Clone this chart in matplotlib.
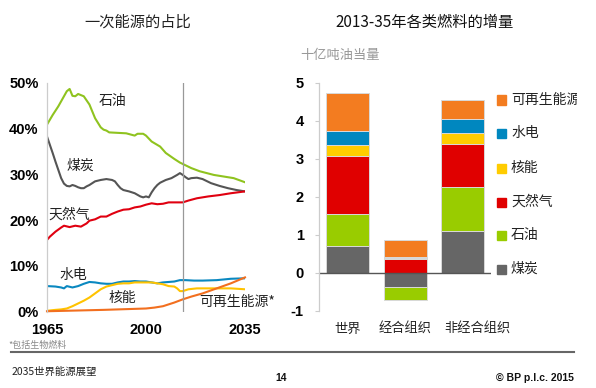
import numpy as np
import matplotlib
matplotlib.use('Agg')
import matplotlib.pyplot as plt
from matplotlib.patches import Rectangle

plt.rcParams['font.family'] = ['Noto Sans CJK SC', 'DejaVu Sans']

# Cuota de energia primaria (%)
oil_years = [1965, 1967, 1969, 1971, 1972, 1973, 1974, 1975, 1976, 1978, 1980, 1982, 1984, 1985, 1986,
             1987, 1990, 1993, 1996, 1997, 1999, 2000, 2002, 2005, 2007, 2010, 2012, 2013, 2016, 2019,
             2024, 2031, 2035]
oil_share = [40.9, 43.0, 44.9, 47.1, 48.2, 48.7, 47.2, 47.1, 47.6, 47.1, 45.3, 42.3, 40.3, 39.8, 39.6,
             39.2, 39.1, 39.0, 38.5, 38.9, 38.9, 38.5, 37.2, 36.1, 34.7, 33.4, 32.6, 32.3, 31.4, 30.7,
             29.9, 29.2, 28.3]

coal_years = [1965, 1966, 1967, 1968, 1969, 1970, 1971, 1972, 1973, 1974, 1975, 1976, 1977, 1978, 1979,
              1980, 1982, 1984, 1986, 1988, 1989, 1990, 1991, 1992, 1994, 1996, 1998, 1999, 2000, 2001,
              2002, 2003, 2004, 2005, 2007, 2009, 2011, 2012, 2013, 2014, 2015, 2016, 2018, 2020, 2023,
              2026, 2029, 2032, 2035]
coal_share = [38.3, 36.5, 34.7, 32.8, 31.0, 29.2, 28.0, 27.5, 27.4, 27.7, 27.5, 27.2, 27.0, 27.0, 27.4,
              27.7, 28.5, 28.8, 29.0, 28.8, 28.5, 27.7, 27.0, 26.6, 26.3, 25.9, 25.2, 25.0, 25.2, 25.0,
              26.1, 27.0, 27.7, 28.2, 28.8, 29.2, 29.9, 30.3, 29.9, 29.4, 29.0, 29.2, 29.3, 29.0, 28.1,
              27.5, 27.0, 26.6, 26.3]

gas_years = [1965, 1966, 1968, 1970, 1971, 1973, 1975, 1977, 1979, 1980, 1982, 1984, 1986, 1988, 1990,
             1992, 1994, 1996, 1998, 2000, 2002, 2004, 2006, 2008, 2010, 2013, 2015, 2018, 2022, 2026,
             2030, 2035]
gas_share = [15.7, 16.4, 17.5, 18.4, 18.8, 18.5, 18.8, 18.6, 19.3, 19.9, 20.2, 20.8, 20.8, 21.4, 21.9,
             22.3, 22.4, 22.8, 23.0, 23.4, 23.7, 23.5, 23.6, 23.9, 23.9, 23.9, 24.3, 24.8, 25.2, 25.5,
             25.9, 26.3]

hydro_years = [1965, 1968, 1970, 1971, 1972, 1974, 1976, 1978, 1980, 1982, 1984, 1986, 1988, 1990, 1992,
               1994, 1996, 1998, 2000, 2002, 2004, 2006, 2008, 2010, 2012, 2014, 2017, 2020, 2025, 2030,
               2035]
hydro_share = [5.6, 5.5, 5.3, 5.1, 5.6, 5.3, 5.6, 6.1, 6.5, 6.4, 6.2, 6.1, 6.1, 6.4, 6.6,
               6.6, 6.7, 6.6, 6.6, 6.4, 6.2, 6.4, 6.5, 6.6, 6.9, 6.9, 6.8, 6.8, 6.9, 7.2,
               7.3]

nuc_years = [1965, 1968, 1970, 1972, 1974, 1976, 1978, 1980, 1982, 1984, 1986, 1988, 1990, 1992, 1994,
             1996, 1998, 2000, 2002, 2004, 2006, 2008, 2010, 2011, 2012, 2013, 2015, 2018, 2022, 2026,
             2030, 2035]
nuc_share = [0.2, 0.4, 0.5, 0.7, 1.2, 1.8, 2.4, 3.1, 4.0, 4.9, 5.5, 5.8, 6.1, 6.2, 6.2,
             6.4, 6.4, 6.4, 6.4, 6.2, 6.0, 5.6, 5.5, 5.1, 4.5, 4.5, 4.9, 5.1, 5.1, 5.1,
             5.1, 4.9]

ren_years = [1965, 1985, 1990, 1995, 2000, 2003, 2006, 2008, 2010, 2013, 2016, 2020, 2025, 2030, 2035]
ren_share = [0.1, 0.4, 0.5, 0.6, 0.7, 0.9, 1.2, 1.6, 2.0, 2.7, 3.3, 4.0, 5.1, 6.2, 7.5]

# Incremento 2013-35 (mil millones tep)
regions = ['世界', '经合组织', '非经合组织']
fuels = ['煤炭', '石油', '天然气', '核能', '水电', '可再生能源']
coal_inc = [0.71, -0.37, 1.10]
oil_inc = [0.83, -0.35, 1.16]
gas_inc = [1.54, 0.38, 1.14]
nuc_inc = [0.28, 0.01, 0.29]
hydro_inc = [0.39, 0.03, 0.35]
ren_inc = [0.99, 0.46, 0.52]

bar_colors = ['#666666', '#99cc00', '#e00000', '#ffcc00', '#0087bf', '#f37c20']
line_colors = {'oil': '#8fc31f', 'coal': '#555555', 'gas': '#e00010',
               'hydro': '#0a88c0', 'nuc': '#ffc300', 'ren': '#f26f1f'}

fig = plt.figure(figsize=(5.96, 3.88), dpi=100)
W, H = 596.0, 388.0

def fx(px):
    return px / W

def fy(py):
    return 1 - py / H

tick_font = dict(family='Liberation Sans', fontweight='bold', fontsize=10.5)

# ---- grafico izquierdo
ax1 = fig.add_axes([fx(47), fy(311.7), fx(245) - fx(47), fy(83) - fy(311.7)])
ax1.plot(oil_years, oil_share, color=line_colors['oil'], lw=1.5)
ax1.plot(coal_years, coal_share, color=line_colors['coal'], lw=1.5)
ax1.plot(gas_years, gas_share, color=line_colors['gas'], lw=1.5)
ax1.plot(hydro_years, hydro_share, color=line_colors['hydro'], lw=1.5)
ax1.plot(nuc_years, nuc_share, color=line_colors['nuc'], lw=1.5)
ax1.plot(ren_years, ren_share, color=line_colors['ren'], lw=1.5, clip_on=False)
ax1.axvline(2013, color='#999999', lw=0.9)
ax1.set_xlim(1965, 2035)
ax1.set_ylim(0, 50)
ax1.set_xticks([1965, 2000, 2035])
ax1.set_yticks([0, 10, 20, 30, 40, 50])
ax1.set_yticklabels(['0%', '10%', '20%', '30%', '40%', '50%'], **tick_font)
ax1.set_xticklabels(['1965', '2000', '2035'], **tick_font)
ax1.tick_params(length=0, pad=6)
ax1.tick_params(axis='x', pad=8)
for s in ['top', 'right', 'bottom']:
    ax1.spines[s].set_visible(False)
ax1.spines['left'].set_color('#cccccc')
ax1.spines['left'].set_linewidth(0.9)

lab = dict(fontsize=10, color='#222222', ha='center', va='center')
ax1.text(1988, 46.0, '石油', **lab)
ax1.text(1976.8, 31.9, '煤炭', **lab)
ax1.text(1973, 21.2, '天然气', **lab)
ax1.text(1974.4, 8.0, '水电', **lab)
ax1.text(1991.5, 3.1, '核能', **lab)
ax1.text(2032.3, 2.2, '可再生能源*', clip_on=False, **lab)

# ---- grafico derecho
ax2 = fig.add_axes([fx(319), fy(311), fx(491) - fx(319), fy(83) - fy(311)])
x = np.arange(len(regions))
series = [coal_inc, oil_inc, gas_inc, nuc_inc, hydro_inc, ren_inc]
pos_base = np.zeros(len(regions))
neg_base = np.zeros(len(regions))
for vals, col, name in zip(series, bar_colors, fuels):
    vals = np.array(vals)
    bottoms = np.where(vals >= 0, pos_base, neg_base)
    ax2.bar(x, vals, width=0.75, bottom=bottoms, color=col, edgecolor='#d9d9d9',
            linewidth=0.7, label=name)
    pos_base = pos_base + np.where(vals >= 0, vals, 0)
    neg_base = neg_base + np.where(vals < 0, vals, 0)
ax2.axhline(0, color='#555555', lw=1.0)
ax2.set_xlim(-0.5, 2.5)
ax2.set_ylim(-1, 5)
ax2.set_yticks([-1, 0, 1, 2, 3, 4, 5])
ax2.set_yticklabels(['-1', '0', '1', '2', '3', '4', '5'], **tick_font)
ax2.set_xticks([])
# etiquetas de categoria (la ultima desplazada como en el original)
label_x = [0.0, 0.0, 0.27]
for xi, dx, name in zip(x, label_x, regions):
    ax2.text(xi + dx, -1.48, name, fontsize=9.5, color='#222222', ha='center', va='center',
             clip_on=False)
ax2.tick_params(axis='y', length=3, color='#cccccc', pad=8)
for s in ['top', 'right', 'bottom']:
    ax2.spines[s].set_visible(False)
ax2.spines['left'].set_color('#cccccc')
ax2.spines['left'].set_linewidth(0.9)

# leyenda manual
clip_rect = Rectangle((0, 0), fx(577), 1, transform=fig.transFigure)
leg_y = [100, 133, 168, 202, 235, 269]
for name, col, py in zip(fuels[::-1], bar_colors[::-1], leg_y):
    fig.patches.append(Rectangle((fx(497), fy(py + 4.5)), fx(9), 9 / H, color=col,
                                 transform=fig.transFigure, figure=fig))
    t = fig.text(fx(511), fy(py), name, fontsize=10, color='#222222', va='center', ha='left')
    t.set_clip_path(clip_rect)
    t.set_clip_on(True)

# titulos y texto
fig.text(fx(138), fy(22), '一次能源的占比', fontsize=11, color='#222222', ha='center', va='center')
fig.text(fx(425), fy(22), '2013-35年各类燃料的增量', fontsize=11, color='#111111',
         ha='center', va='center', fontweight='medium')
fig.text(fx(300), fy(55), '十亿吨油当量', fontsize=9.5, color='#999999', ha='left', va='center')

fig.text(fx(8), fy(345), '*包括生物燃料', fontsize=6.5, color='#888888', ha='left', va='center')
fig.add_artist(plt.Line2D([fx(11), fx(574)], [fy(352), fy(352)], color='#666666', lw=1.5))
fig.text(fx(12), fy(372), '2035世界能源展望', fontsize=7.5, color='#222222', ha='left',
         va='center', style='italic')
fig.text(fx(281), fy(378), '14', fontsize=7.5, color='#111111', ha='center', va='center',
         family='Liberation Sans', fontweight='bold')
fig.text(fx(574), fy(378), '© BP p.l.c. 2015', fontsize=7.5, color='#111111', ha='right',
         va='center', family='Liberation Sans', fontweight='bold')

fig.savefig('out.png', dpi=100)
